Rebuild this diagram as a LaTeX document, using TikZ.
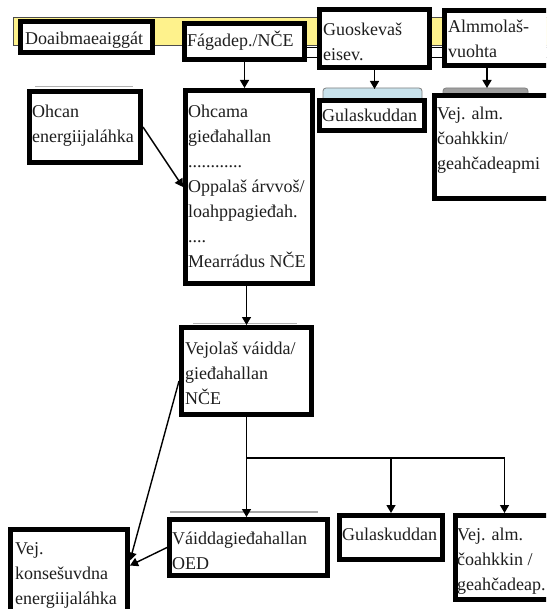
\documentclass[tikz,border=0pt]{standalone}
\usepackage{fontspec}
\setmainfont{Liberation Serif}
\usetikzlibrary{arrows.meta}
\definecolor{bandyellow}{RGB}{254,242,140}
\definecolor{capblue}{RGB}{200,226,236}
\definecolor{txtcol}{RGB}{30,30,30}
\tikzset{
  bx/.style={draw=black, line width=4.8pt, inner sep=0pt, fill=white},
  txt/.style={inner sep=0pt, anchor=north west, align=left, text=txtcol,
              font=\fontsize{18}{25}\selectfont},
  arr/.style={draw=black, line width=1.4pt, -{Triangle[length=8pt,width=9pt]}},
  conn/.style={draw=black, line width=1.4pt},
  shade/.style={draw=gray!60, line width=1pt}
}
\newcommand\bx[5]{%
  \node[bx, minimum width={#4-#2-4.8}, minimum height={#5-#3-4.8}] (#1) at ({(#2+#4)/2},{(#3+#5)/2}) {};}
\begin{document}
\begin{tikzpicture}[x=1pt,y=-1pt]
\useasboundingbox (0,0) rectangle (546,609);
\clip (0,0) rectangle (546,609);
\fill[white] (0,0) rectangle (546,609);
% header band
\draw[fill=bandyellow, draw=black!70, line width=0.8pt] (13,17) rectangle (560,45);
\draw[fill=white, draw=black, line width=0.8pt] (182,47) rectangle (560,57);
% shadow tops
\draw[shade] (35,87) -- (133,87);
\draw[shade] (193,323) -- (297,323);
\draw[draw=gray!70, line width=2pt] (170,512) -- (318,512);
\draw[fill=capblue, draw=gray, line width=0.8pt, rounded corners=3pt] (323,88) rectangle (422,104);
\draw[fill=gray!75, draw=gray, line width=0.8pt, rounded corners=3pt] (443,88) rectangle (528,100);
% boxes
\bx{doa}{18}{19}{155}{55}
\bx{fag}{182}{21}{307}{62}
\bx{guo}{317}{7}{432}{70}
\bx{alm}{442}{8}{556}{68}
\bx{ohcan}{27}{89}{143}{165}
\bx{ohcama}{183}{88}{315}{286}
\bx{gul1}{317}{98}{427}{133}
\bx{vej1}{432}{93}{556}{201}
\bx{vejo}{179}{325}{314}{417}
\bx{kon}{8}{527}{130}{620}
\bx{vai}{167}{517}{330}{578}
\bx{gul2}{337}{513}{445}{562}
\bx{vej2}{453}{513}{556}{602}
% texts
\node[txt] (doa-t) at (25,32) {Doaibmaeaiggát};
\node[txt] (fag-t) at (187,31) {Fágadep./NČE};
\node[txt] (guo-t) at (323,23) {Guoskevaš\\eisev.};
\node[txt] (alm-t) at (448,20) {Almmolaš-\\vuohta};
\node[txt] (ohcan-t) at (32,105) {Ohcan\\energiijaláhka};
\node[txt] (ohcama-t) at (188,105) {Ohcama\\gieđahallan\\............\\Oppalaš árvvoš/\\loahppagieđah.\\....\\Mearrádus NČE};
\node[txt] (gul1-t) at (322,109) {Gulaskuddan};
\node[txt] (vej1-t) at (437,107) {Vej. alm.\\čoahkkin/\\geahčadeapmi};
\node[txt] (vejo-t) at (185,342) {Vejolaš váidda/\\gieđahallan\\NČE};
\node[txt] (kon-t) at (15,542) {Vej.\\konsešuvdna\\energiijaláhka};
\node[txt] (vai-t) at (172,532) {Váiddagieđahallan\\OED};
\node[txt] (gul2-t) at (342,528) {Gulaskuddan};
\node[txt] (vej2-t) at (457,528) {Vej. alm.\\čoahkkin /\\geahčadeap.};
% connectors
\draw[arr] (fag.south) -- (fag.south |- ohcama.north);
\draw[arr] (guo.south) -- ++(0,19);
\coordinate (almout) at ([xshift=45pt]alm.south west);
\draw[arr] (almout) -- ++(0,20);
\draw[arr] (ohcan.east) -- (ohcama.west);
\draw[arr] (vejo.north |- ohcama.south) -- (vejo.north);
\draw[arr] (vejo.south) -- (vejo.south |- vai.north);
\coordinate (J) at ([yshift=-41pt]vejo.south);
\draw[conn] (J) -- (J -| vej2.north);
\draw[arr] (J -| gul2.north) -- (gul2.north);
\draw[arr] (J -| vej2.north) -- (vej2.north);
\draw[arr] ([yshift=-10pt]vejo.west) -- ([yshift=13pt]kon.east);
\draw[arr] (vai.west) -- ([yshift=8pt]kon.east);
\end{tikzpicture}
\end{document}
